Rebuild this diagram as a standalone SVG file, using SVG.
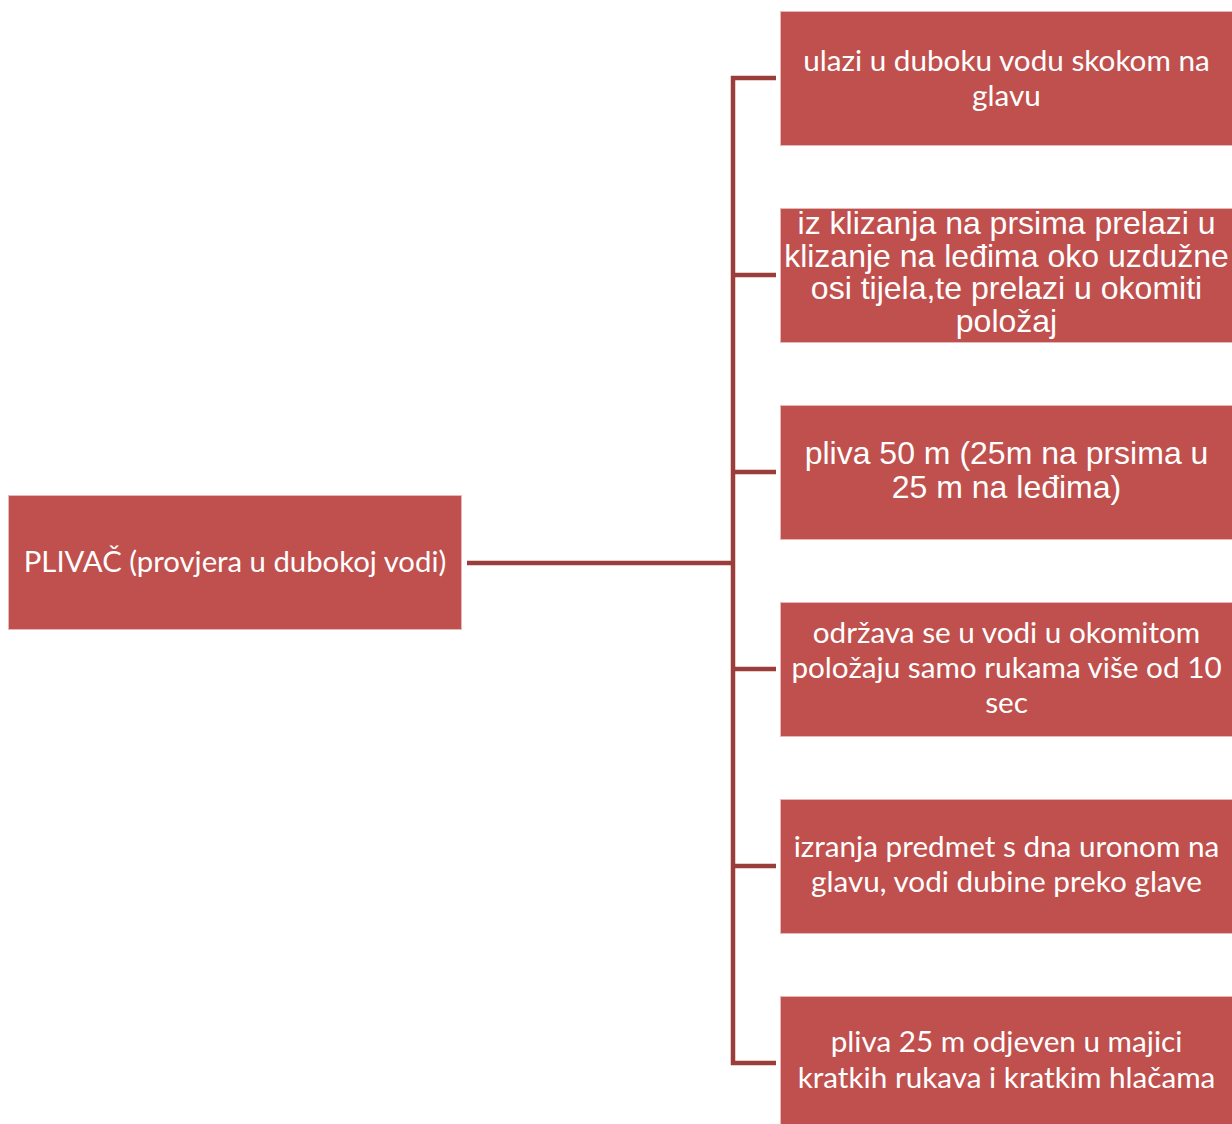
<svg xmlns="http://www.w3.org/2000/svg" width="1232" height="1124" viewBox="0 0 1232 1124">
<style>
.box{fill:#C0504D;stroke:#E6B9B8;stroke-width:1}
.c{font-family:Lato,"Open Sans","DejaVu Sans",sans-serif;font-size:29.7px;fill:#fff;text-anchor:middle}
.a{font-family:"Liberation Sans",Arial,sans-serif;font-size:32px;fill:#fff;text-anchor:middle}
.ln{stroke:#9B3D3B;stroke-width:4.5;fill:none}
</style>
<rect width="1232" height="1124" fill="#fff"/>
<g id="connectors">
<line class="ln" x1="467" y1="563" x2="733" y2="563"/>
<line class="ln" x1="733" y1="76" x2="733" y2="1065"/>
<line class="ln" x1="731" y1="78" x2="776" y2="78"/>
<line class="ln" x1="733" y1="275" x2="776" y2="275"/>
<line class="ln" x1="733" y1="472" x2="776" y2="472"/>
<line class="ln" x1="733" y1="669" x2="776" y2="669"/>
<line class="ln" x1="733" y1="866" x2="776" y2="866"/>
<line class="ln" x1="731" y1="1063" x2="776" y2="1063"/>
</g>
<g id="root">
<rect class="box" x="8.5" y="495.5" width="453" height="134"/>
<text class="c" x="235" y="572" style="font-size:29.3px">PLIVAČ (provjera u dubokoj vodi)</text>
</g>
<g id="n1">
<rect class="box" x="780.5" y="11.5" width="453" height="134"/>
<text class="c" x="1006.5" y="71">ulazi u duboku vodu skokom na</text>
<text class="c" x="1006.5" y="106">glavu</text>
</g>
<g id="n2">
<rect class="box" x="780.5" y="208.5" width="453" height="134"/>
<text class="a" x="1006.5" y="234">iz klizanja na prsima prelazi u</text>
<text class="a" x="1006.5" y="266.5">klizanje na leđima oko uzdužne</text>
<text class="a" x="1006.5" y="299">osi tijela,te prelazi u okomiti</text>
<text class="a" x="1006.5" y="331.5">položaj</text>
</g>
<g id="n3">
<rect class="box" x="780.5" y="405.5" width="453" height="134"/>
<text class="a" x="1006.5" y="464">pliva 50 m (25m na prsima u</text>
<text class="a" x="1006.5" y="498">25 m na leđima)</text>
</g>
<g id="n4">
<rect class="box" x="780.5" y="602.5" width="453" height="134"/>
<text class="c" x="1006.5" y="643">održava se u vodi u okomitom</text>
<text class="c" x="1006.5" y="678">položaju samo rukama više od 10</text>
<text class="c" x="1006.5" y="713">sec</text>
</g>
<g id="n5">
<rect class="box" x="780.5" y="799.5" width="453" height="134"/>
<text class="c" x="1006.5" y="857">izranja predmet s dna uronom na</text>
<text class="c" x="1006.5" y="892">glavu, vodi dubine preko glave</text>
</g>
<g id="n6">
<rect class="box" x="780.5" y="996.5" width="453" height="134"/>
<text class="c" x="1006.5" y="1052">pliva 25 m odjeven u majici</text>
<text class="c" x="1006.5" y="1088">kratkih rukava i kratkim hlačama</text>
</g>
</svg>
